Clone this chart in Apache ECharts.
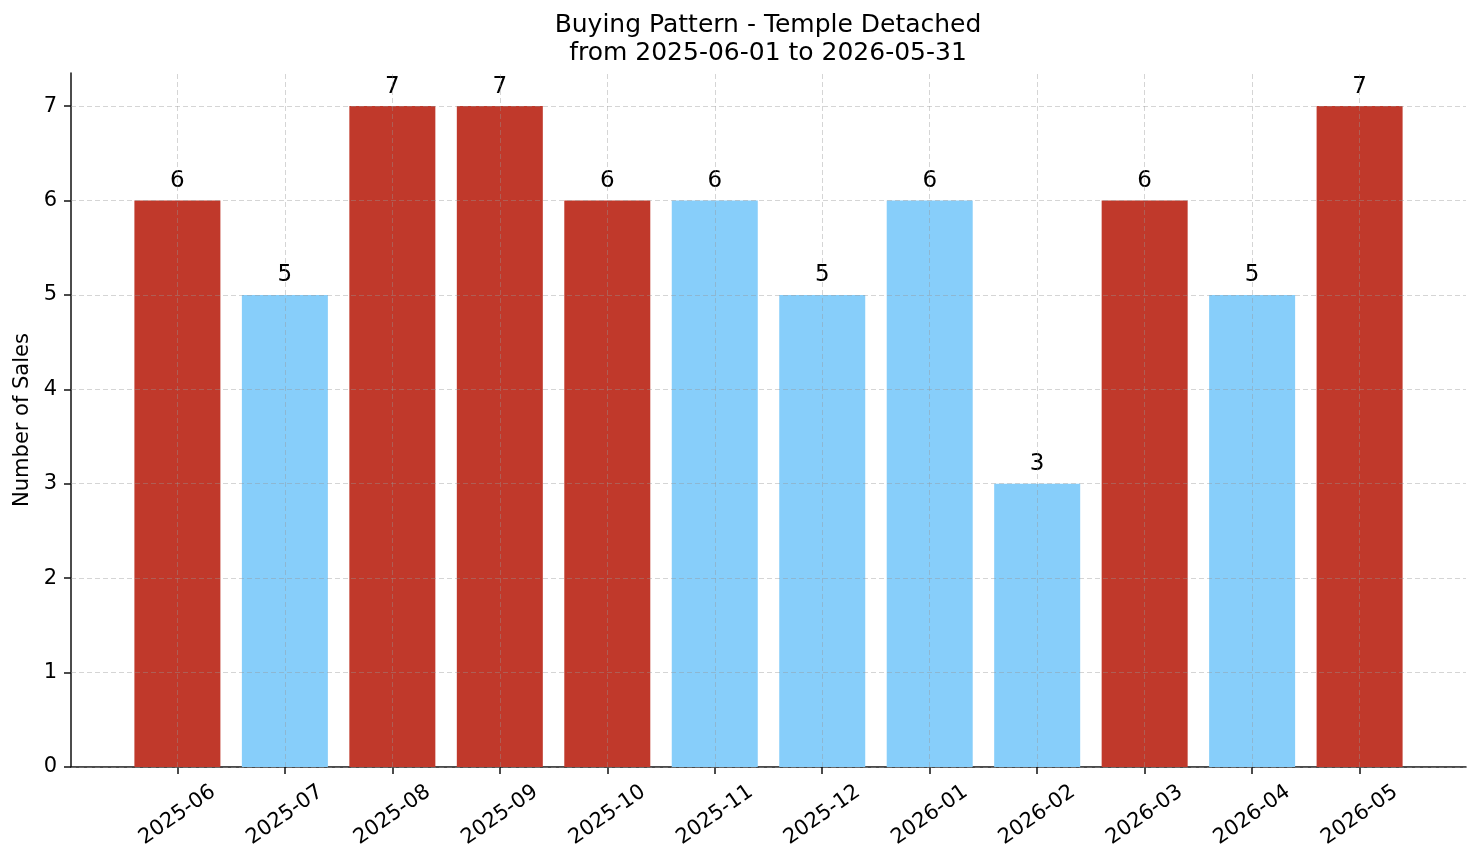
<!DOCTYPE html>
<html>
<head>
<meta charset="utf-8">
<title>Buying Pattern - Temple Detached</title>
<script src="https://cdn.jsdelivr.net/npm/echarts@6/dist/echarts.min.js"></script>
<style>
    html, body { margin: 0; padding: 0; background: #fff; }
    #chart { width: 1481px; height: 863px; }
</style>
</head>
<body>
<div id="chart"></div>
<script>
// data
var months = ['2025-06', '2025-07', '2025-08', '2025-09', '2025-10', '2025-11',
              '2025-12', '2026-01', '2026-02', '2026-03', '2026-04', '2026-05'];
var sales = [6, 5, 7, 7, 6, 6, 5, 6, 3, 6, 5, 7];
// 1 = red bar, 0 = light blue bar
var highlighted = [1, 0, 1, 1, 1, 0, 0, 0, 0, 1, 0, 1];
var yTicks = [0, 1, 2, 3, 4, 5, 6, 7];
var titleLines = ['Buying Pattern - Temple Detached', 'from 2025-06-01 to 2026-05-31'];
var yName = 'Number of Sales';

var RED = '#c0392b';
var BLUE = '#87cefa';
var FONT = 'DejaVu Sans';

var myChart = echarts.init(document.getElementById('chart'));
var idx = months.map(function (m, i) { return i; });

var gridLine = {
    color: 'rgba(150,150,150,0.4)',
    width: 1,
    type: [5, 3]
};

var option = {
    animation: false,
    textStyle: { fontFamily: FONT },
    title: {
        text: titleLines.join('\n'),
        left: 768,
        top: 11,
        padding: 0,
        textAlign: 'center',
        textStyle: {
            fontFamily: FONT,
            fontSize: 25,
            fontWeight: 'normal',
            color: '#000',
            lineHeight: 28
        }
    },
    grid: {
        left: 71,
        right: 15,
        top: 73,
        bottom: 96,
        containLabel: false
    },
    xAxis: {
        type: 'value',
        min: -0.99,
        max: months.length - 1 + 0.99,
        splitLine: { show: false },
        axisLine: { onZero: false, lineStyle: { color: '#111', width: 1.5 } },
        axisTick: {
            show: true,
            customValues: idx,
            length: 7,
            lineStyle: { color: '#111', width: 1.5 }
        },
        axisLabel: {
            customValues: idx,
            rotate: 35,
            align: 'center',
            verticalAlign: 'middle',
            margin: 48,
            fontSize: 21,
            color: '#000',
            fontFamily: FONT,
            formatter: function (v) { return months[Math.round(v)]; }
        }
    },
    yAxis: {
        type: 'value',
        min: 0,
        max: Math.max.apply(null, sales) * 1.05,
        name: yName,
        nameLocation: 'middle',
        nameGap: 34,
        nameTextStyle: { fontSize: 21, color: '#000', fontFamily: FONT },
        splitLine: { show: false },
        axisLine: { show: true, onZero: false, lineStyle: { color: '#111', width: 1.5 } },
        axisTick: {
            show: true,
            customValues: yTicks,
            length: 7,
            lineStyle: { color: '#111', width: 1.5 }
        },
        axisLabel: {
            customValues: yTicks,
            margin: 14,
            fontSize: 21,
            color: '#000',
            fontFamily: FONT
        }
    },
    series: [
        {
            type: 'bar',
            barWidth: 86,
            data: sales.map(function (v, i) {
                return {
                    value: [i, v],
                    itemStyle: { color: highlighted[i] ? RED : BLUE }
                };
            }),
            label: {
                show: true,
                position: 'top',
                distance: 8,
                fontSize: 23,
                color: '#000',
                fontFamily: FONT,
                formatter: function (p) { return p.value[1]; }
            },
            markLine: {
                silent: true,
                symbol: 'none',
                label: { show: false },
                lineStyle: gridLine,
                data: idx.map(function (i) { return { xAxis: i }; })
                    .concat(yTicks.map(function (t) { return { yAxis: t }; }))
            }
        }
    ]
};

option && myChart.setOption(option);
</script>
</body>
</html>
